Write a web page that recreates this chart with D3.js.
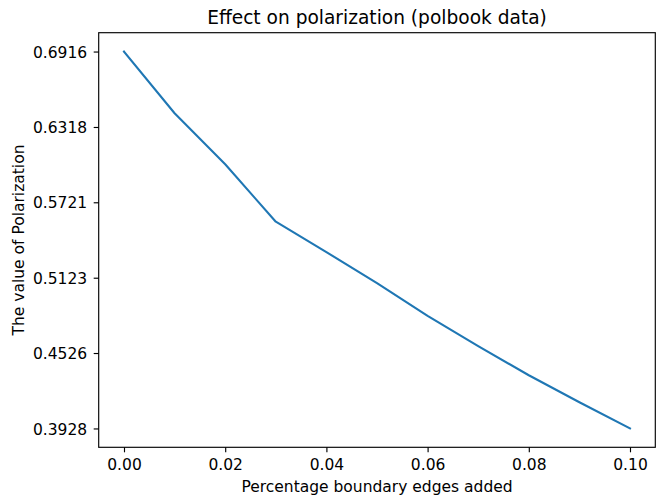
<!DOCTYPE html>
<html>
<head>
<meta charset="utf-8">
<script src="https://cdn.jsdelivr.net/npm/d3@7"></script>
<style>
  html, body { margin: 0; padding: 0; background: #fff; }
  svg { display: block; }
  text { font-family: "DejaVu Sans", sans-serif; fill: #000; }
</style>
</head>
<body>
<svg id="chart" width="658" height="500"></svg>
<script>
const xValues = [0.00, 0.01, 0.02, 0.03, 0.04, 0.05, 0.06, 0.07, 0.08, 0.09, 0.10];
const polarization = [0.6916, 0.6427, 0.6022, 0.5567, 0.5326, 0.5080, 0.4821, 0.4580, 0.4350, 0.4136, 0.3928];
const xTicks = [0.00, 0.02, 0.04, 0.06, 0.08, 0.10];
const xTickLabels = ["0.00", "0.02", "0.04", "0.06", "0.08", "0.10"];
const yTicks = [0.3928, 0.4526, 0.5123, 0.5721, 0.6318, 0.6916];
const yTickLabels = ["0.3928", "0.4526", "0.5123", "0.5721", "0.6318", "0.6916"];

const svg = d3.select("#chart");
const plotLeft = 98.7, plotRight = 655.3, plotTop = 32.7, plotBottom = 447.3;

const xMin = d3.min(xValues), xMax = d3.max(xValues);
const xPad = (xMax - xMin) * 0.05;
const yMin = d3.min(polarization), yMax = d3.max(polarization);
const yPad = (yMax - yMin) * 0.05;

const x = d3.scaleLinear().domain([xMin - xPad, xMax + xPad]).range([plotLeft, plotRight]);
const y = d3.scaleLinear().domain([yMin - yPad, yMax + yPad]).range([plotBottom, plotTop]);

const fs = 15.5;

// line
const line = d3.line().x((d, i) => x(xValues[i])).y(d => y(d));
svg.append("path")
  .datum(polarization)
  .attr("d", line)
  .attr("fill", "none")
  .attr("stroke", "#1f77b4")
  .attr("stroke-width", 2.1)
  .attr("stroke-linecap", "square")
  .attr("stroke-linejoin", "round");

// axes
const xAxis = d3.axisBottom(x).tickValues(xTicks)
  .tickFormat((d, i) => xTickLabels[i]).tickSizeOuter(0).tickSize(5).tickPadding(5);
const yAxis = d3.axisLeft(y).tickValues(yTicks)
  .tickFormat((d, i) => yTickLabels[i]).tickSizeOuter(0).tickSize(5).tickPadding(5);

const gx = svg.append("g").attr("transform", `translate(0,${plotBottom})`).call(xAxis);
const gy = svg.append("g").attr("transform", `translate(${plotLeft},0)`).call(yAxis);
[gx, gy].forEach(g => {
  g.select(".domain").remove();
  g.selectAll(".tick line").attr("stroke", "#000").attr("stroke-width", 1.14);
  g.selectAll(".tick text")
    .style("font-family", '"DejaVu Sans", sans-serif')
    .style("font-size", fs + "px")
    .attr("fill", "#000");
});
gx.selectAll(".tick text").attr("dy", null).attr("y", 23);
gy.selectAll(".tick text").attr("x", -11.5).attr("dy", "0.36em");

// frame
svg.append("rect")
  .attr("x", plotLeft).attr("y", plotTop)
  .attr("width", plotRight - plotLeft).attr("height", plotBottom - plotTop)
  .attr("fill", "none").attr("stroke", "#000").attr("stroke-width", 1.14);

// title
svg.append("text")
  .attr("x", (plotLeft + plotRight) / 2).attr("y", 23.5)
  .attr("text-anchor", "middle")
  .style("font-size", "18.6px")
  .text("Effect on polarization (polbook data)");

// x label
svg.append("text")
  .attr("x", (plotLeft + plotRight) / 2).attr("y", 491.5)
  .attr("text-anchor", "middle")
  .style("font-size", fs + "px")
  .text("Percentage boundary edges added");

// y label
svg.append("text")
  .attr("transform", `translate(24,${(plotTop + plotBottom) / 2}) rotate(-90)`)
  .attr("text-anchor", "middle")
  .style("font-size", fs + "px")
  .text("The value of Polarization");
</script>
</body>
</html>
